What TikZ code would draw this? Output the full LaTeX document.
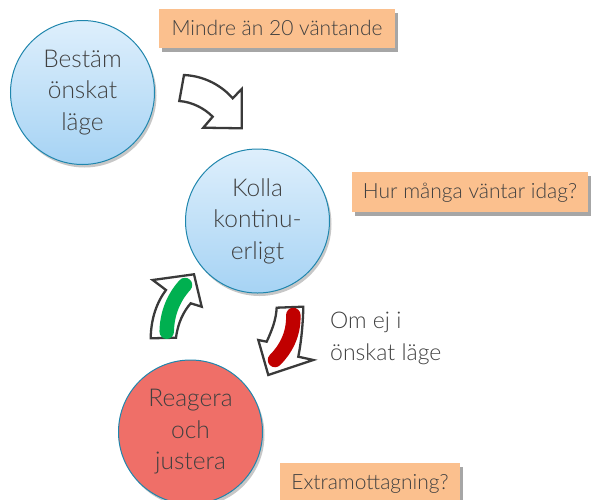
\documentclass[tikz,border=0pt]{standalone}
\usepackage{fontspec}
\setmainfont{Lato Light}
\usetikzlibrary{shadows}
\definecolor{txt}{HTML}{404040}
\definecolor{circborder}{HTML}{1F86AD}
\definecolor{bluetop}{HTML}{DEEFFC}
\definecolor{bluebot}{HTML}{A6D3F4}
\definecolor{redfill}{HTML}{EF6F68}
\definecolor{boxfill}{HTML}{FBC08E}
\definecolor{arrowline}{HTML}{3A3A3A}
\definecolor{greenbar}{HTML}{00B050}
\definecolor{redbar}{HTML}{C00000}
\begin{document}
\begin{tikzpicture}[x=1pt,y=-1pt,
  circ/.style={circle, minimum size=144pt, inner sep=0pt, draw=circborder, line width=1pt,
    align=center, text=txt, font=\fontsize{24.5}{31.5}\selectfont,
    drop shadow={shadow xshift=2pt, shadow yshift=-3pt, opacity=0.22, fill=black}},
  bluecirc/.style={circ, top color=bluetop, bottom color=bluebot},
  redcirc/.style={circ, fill=redfill},
  infobox/.style={rectangle, fill=boxfill, inner sep=0pt, text=txt,
    font=\fontsize{21}{24}\selectfont, text height=17pt, text depth=4pt,
    drop shadow={shadow xshift=3pt, shadow yshift=-4pt, opacity=0.35, fill=black}},
  blockarrow/.style={draw=arrowline, fill=white, line width=2.3pt, line join=miter},
  bar/.style={line width=14.5pt, line cap=round},
  note/.style={text=txt, font=\fontsize{23}{31.5}\selectfont, align=left, inner sep=0pt}
]
\useasboundingbox (0,0) rectangle (592,499);
\clip (0,0) rectangle (592,499);

% info boxes
\node[infobox, minimum width=236pt, minimum height=39pt] (b1) at (277,28.5) {Mindre än 20 väntande};
\node[infobox, minimum width=236pt, minimum height=40pt] (b2) at (470,192) {Hur många väntar idag?};
\node[infobox, minimum width=180pt, minimum height=40pt] (b3) at (370,483) {Extramottagning?};

% circles
\node[bluecirc] (c1) at (82.5,92.5) {Bestäm\\önskat\\läge};
\node[bluecirc] (c2) at (257.5,221) {Kolla\\kontinu-\\erligt};
\node[redcirc] (c3) at (190.5,432) {Reagera\\och\\justera};

% arrow from c1 to c2 (outlined block arrow)
\coordinate (a1t1) at (184,75);
\coordinate (a1t2) at (179.3,101);
\coordinate (a1nr) at (232.7,98.3);
\coordinate (a1br) at (241.7,89);
\coordinate (a1tip) at (241.7,128.3);
\coordinate (a1bl) at (203.3,127.7);
\coordinate (a1nl) at (212.7,116.7);
\draw[blockarrow] (a1t1) .. controls (205,76) and (222,86) .. (a1nr) -- (a1br) -- (a1tip) -- (a1bl) -- (a1nl)
  .. controls (204,108) and (192,102) .. (a1t2) -- cycle;

% green arrow from c3 up to c2
\coordinate (g1) at (150.7,338.3);
\coordinate (g2) at (176,337.7);
\coordinate (gnr) at (190.7,303.3);
\coordinate (gbr) at (201.7,306.7);
\coordinate (gtip) at (194,274.3);
\coordinate (gbl) at (152.7,280);
\coordinate (gnl) at (166,290);
\draw[blockarrow] (g1) -- (g2) .. controls (178,322) and (184,311) .. (gnr) -- (gbr) -- (gtip) -- (gbl) -- (gnl)
  .. controls (157,302) and (151,318) .. (g1) -- cycle;
\coordinate (gs1) at (166.7,331.7);
\coordinate (gs2) at (185,285);
\draw[bar, greenbar] (gs1) .. controls (167,313) and (174,297) .. (gs2);

% red arrow from c2 down to c3
\coordinate (r1) at (276.7,307.7);
\coordinate (r2) at (303.3,306.7);
\coordinate (rnr) at (298.3,356.7);
\coordinate (rbr) at (313.3,360);
\coordinate (rtip) at (268.3,375);
\coordinate (rbl) at (258.3,340);
\coordinate (rnl) at (266.7,341.7);
\draw[blockarrow] (r1) -- (r2) .. controls (303,325) and (301,343) .. (rnr) -- (rbr) -- (rtip) -- (rbl) -- (rnl)
  .. controls (272,330) and (276,320) .. (r1) -- cycle;
\coordinate (rs1) at (293.3,315);
\coordinate (rs2) at (275,360);
\draw[bar, redbar] (rs1) .. controls (294,335) and (285,350) .. (rs2);

% note
\node[note, anchor=north west] (n1) at (330,312) {Om ej i\\önskat läge};
\end{tikzpicture}
\end{document}
